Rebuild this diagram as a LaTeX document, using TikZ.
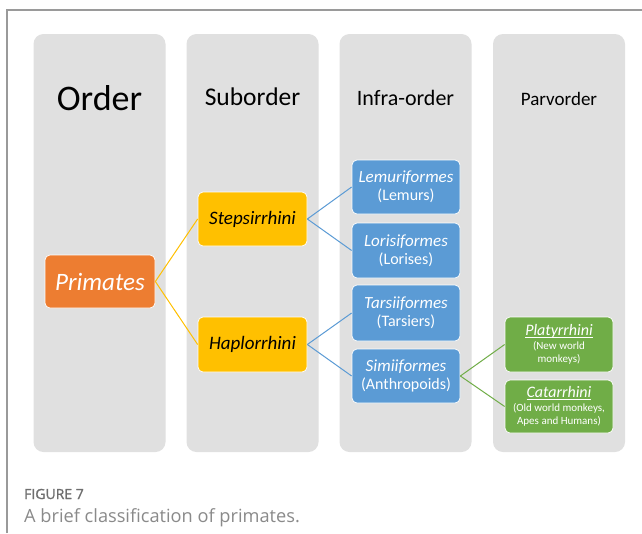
\documentclass[tikz,border=0pt]{standalone}
\usepackage{fontspec}
\setmainfont{Carlito}
\newfontfamily\capfont{Open Sans}
\newfontfamily\capboldfont{Open Sans}[FakeBold=1.2]
\newcommand{\taxonul}[1]{\setbox0\hbox{#1}\rlap{\rule[-1.8pt]{\wd0}{0.6pt}}\box0}
\definecolor{colgray}{HTML}{E0E0E0}
\definecolor{orangebox}{HTML}{ED7D31}
\definecolor{goldbox}{HTML}{FFC000}
\definecolor{bluebox}{HTML}{5B9BD5}
\definecolor{greenbox}{HTML}{70AD47}
\definecolor{framegray}{HTML}{9A9A9A}
\definecolor{capgray}{HTML}{6E6E6E}
\definecolor{captextgray}{HTML}{8A8A8A}
\begin{document}
\begin{tikzpicture}[x=1pt,y=-1pt,
  column/.style={fill=colgray, draw=none, rounded corners=10pt, minimum width=132pt, minimum height=418pt, inner sep=0pt},
  header/.style={anchor=base, inner sep=0pt, text=black},
  taxon/.style={draw=white, line width=0.7pt, rounded corners=5pt, minimum width=109pt, minimum height=54pt, align=center, inner sep=0pt},
  orangetaxon/.style={taxon, fill=orangebox, text=white},
  goldtaxon/.style={taxon, fill=goldbox, text=black},
  bluetaxon/.style={taxon, fill=bluebox, text=white},
  greentaxon/.style={taxon, fill=greenbox, text=white},
  goldlink/.style={draw=goldbox, line width=1pt},
  bluelink/.style={draw=bluebox, line width=1pt},
  greenlink/.style={draw=greenbox, line width=1pt},
  framelines/.style={draw=framegray, line width=1.3pt}
]
\useasboundingbox[fill=white] (0,0) rectangle (642,533);
% frame
\coordinate (fbl) at (7,533);
\coordinate (ftl) at (7,10);
\coordinate (ftr) at (642,10);
\draw[framelines] (fbl) -- (ftl) -- (ftr);
% columns
\node[column] (col1) at (99.5,243) {};
\node[column] (col2) at (252.5,243) {};
\node[column] (col3) at (405.5,243) {};
\node[column] (col4) at (559,243) {};
% headers
\node[header, font=\fontsize{36}{40}\selectfont] (h1) at (99.5,110) {Order};
\node[header, font=\fontsize{25.5}{28}\selectfont] (h2) at (252.5,105) {Suborder};
\node[header, font=\fontsize{22}{26}\selectfont] (h3) at (405.5,105) {Infra-order};
\node[header, font=\fontsize{19}{22}\selectfont] (h4) at (559,105) {Parvorder};
% taxa
\node[orangetaxon, minimum width=110pt, minimum height=53pt, font=\fontsize{25}{28}\selectfont\itshape] (prim) at (100,281.5) {Primates};
\node[goldtaxon, font=\fontsize{19}{22}\selectfont\itshape] (step) at (252.5,219) {Stepsirrhini};
\node[goldtaxon, minimum height=55pt, font=\fontsize{19}{22}\selectfont\itshape] (hapl) at (252.5,344.5) {Haplorrhini};
\node[bluetaxon, minimum width=108pt, font=\fontsize{17}{18}\selectfont] (lemu) at (406,187)
  {\textit{Lemuriformes}\\{\fontsize{16}{18}\selectfont(Lemurs)}};
\node[bluetaxon, minimum width=108pt, minimum height=55pt, font=\fontsize{17}{18}\selectfont] (lori) at (406,250.5)
  {\textit{Lorisiformes}\\{\fontsize{16}{18}\selectfont(Lorises)}};
\node[bluetaxon, minimum width=108pt, minimum height=56pt, font=\fontsize{17}{18}\selectfont] (tars) at (406,313)
  {\textit{Tarsiiformes}\\{\fontsize{16}{18}\selectfont(Tarsiers)}};
\node[bluetaxon, minimum width=108pt, font=\fontsize{17}{18}\selectfont] (simi) at (406,376)
  {\textit{Simiiformes}\\{\fontsize{16}{18}\selectfont(Anthropoids)}};
\node[greentaxon, minimum width=108pt, minimum height=55pt, font=\fontsize{16}{13}\selectfont] (plat) at (559,344.5)
  {\taxonul{\textit{Platyrrhini}}\\[1pt]{\fontsize{11}{12}\selectfont(New world}\\{\fontsize{11}{12}\selectfont monkeys)}};
\node[greentaxon, minimum width=108pt, minimum height=53pt, font=\fontsize{16}{13}\selectfont] (cata) at (559,406.5)
  {\taxonul{\textit{Catarrhini}}\\[1pt]{\fontsize{11}{12}\selectfont(Old world monkeys,}\\{\fontsize{11}{12}\selectfont Apes and Humans)}};
% connectors
\draw[goldlink] (prim.east) -- (step.west);
\draw[goldlink] (prim.east) -- (hapl.west);
\draw[bluelink] (step.east) -- (lemu.west);
\draw[bluelink] (step.east) -- (lori.west);
\draw[bluelink] (hapl.east) -- (tars.west);
\draw[bluelink] (hapl.east) -- (simi.west);
\draw[greenlink] (simi.east) -- (plat.west);
\draw[greenlink] (simi.east) -- (cata.west);
% caption
\node[anchor=base west, inner sep=0pt, text=capgray, font=\capboldfont\fontsize{14}{16}\selectfont] (figlabel) at (24,499) {FIGURE 7};
\node[anchor=base west, inner sep=0pt, text=captextgray, font=\capfont\fontsize{18.2}{20}\selectfont] (figcap) at (24,522) {A brief classification of primates.};
\end{tikzpicture}
\end{document}
